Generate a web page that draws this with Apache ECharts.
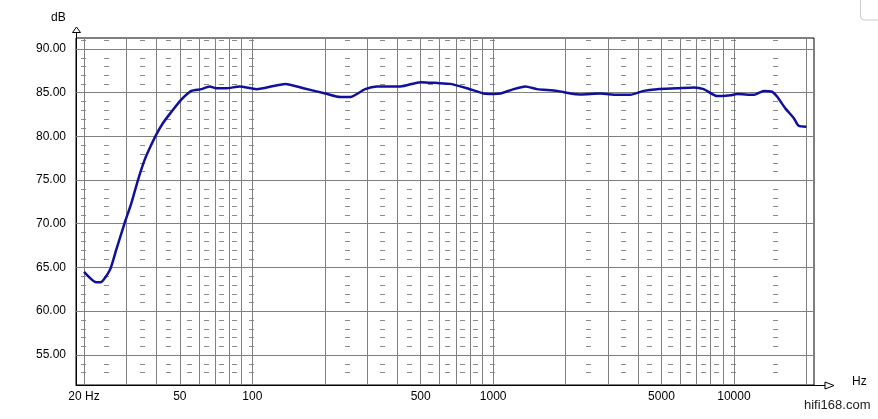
<!DOCTYPE html>
<html>
<head>
<meta charset="utf-8">
<script src="https://cdn.jsdelivr.net/npm/echarts@6/dist/echarts.min.js"></script>
<style>
html,body{margin:0;padding:0;background:#fff;}
#c{width:878px;height:419px;}
</style>
</head>
<body>
<div id="c"></div>
<script>
// Frequency response (Hz, dB)
var freqs = [20, 22.5, 23.4, 25.6, 27.2, 29.5, 31.4, 33.5, 35.7, 37.7, 39.9, 42.5, 46.1, 50.7, 55.8, 61.4, 66.5, 70.8, 78, 88.5, 104, 137, 163, 201, 232, 255, 294, 329, 412, 499, 585, 664, 779, 913, 1004, 1072, 1217, 1361, 1522, 1842, 2093, 2303, 2788, 3268, 3713, 4219, 4797, 5805, 6810, 7486, 8512, 9666, 10300, 12080, 13300, 14400, 15100, 16350, 17700, 18570, 20000];
var levels = [64.5, 63.3, 63.3, 64.7, 67.0, 70.1, 72.3, 75.0, 77.3, 78.8, 80.2, 81.5, 82.8, 84.2, 85.2, 85.4, 85.7, 85.5, 85.5, 85.7, 85.4, 86.0, 85.5, 84.9, 84.5, 84.5, 85.4, 85.7, 85.7, 86.2, 86.1, 86.0, 85.5, 84.9, 84.85, 84.9, 85.4, 85.7, 85.4, 85.2, 84.9, 84.8, 84.9, 84.75, 84.75, 85.2, 85.4, 85.5, 85.6, 85.4, 84.6, 84.7, 84.85, 84.75, 85.2, 85.1, 84.55, 83.2, 82.1, 81.2, 81.1];

// Axis tick labels
var xTickLabels = [20, 50, 100, 500, 1000, 5000, 10000];
var yTickLabels = [55, 60, 65, 70, 75, 80, 85, 90];

// Grid lines
var xGridFreqs = [20, 30, 40, 50, 60, 70, 80, 90, 100, 200, 300, 400, 500, 600, 700, 800, 900, 1000, 2000, 3000, 4000, 5000, 6000, 7000, 8000, 9000, 10000, 20000];
var yGridLevels = [55, 60, 65, 70, 75, 80, 85, 90];

// Minor dash marks
var dashFreqs = [20, 25, 35, 45, 55, 65, 75, 85, 100, 250, 350, 450, 550, 650, 750, 850, 1000, 2500, 3500, 4500, 5500, 6500, 7500, 8500, 10000, 15000];
var dashLevels = [53, 54, 56, 57, 58, 59, 61, 62, 63, 64, 66, 67, 68, 69, 71, 72, 73, 74, 76, 77, 78, 79, 81, 82, 83, 84, 86, 87, 88, 89, 91];

var curve = freqs.map(function (f, i) { return [f, levels[i]]; });
var dashes = [];
dashFreqs.forEach(function (f) { dashLevels.forEach(function (d) { dashes.push([f, d]); }); });

var gridMarks = [];
xGridFreqs.forEach(function (f) { gridMarks.push({ xAxis: f }); });
yGridLevels.forEach(function (d) { gridMarks.push({ yAxis: d }); });

var chart = echarts.init(document.getElementById('c'), null, { renderer: 'canvas' });
var font = 'Liberation Sans, Arial, sans-serif';
chart.setOption({
  animation: false,
  backgroundColor: '#fff',
  grid: { left: 76, top: 38, right: 64, bottom: 34, show: true, borderColor: '#000', borderWidth: 1, backgroundColor: 'transparent' },
  xAxis: {
    type: 'log', logBase: 10, min: 18.52, max: 21500,
    axisLine: { show: true, lineStyle: { color: '#000', width: 1 } },
    axisTick: { show: false },
    splitLine: { show: false },
    minorSplitLine: { show: false },
    axisLabel: {
      customValues: xTickLabels,
      color: '#000', fontSize: 12, fontFamily: font, margin: 6,
      formatter: function (v) { var r = Math.round(v); return r === 20 ? '20 Hz' : String(r); }
    }
  },
  yAxis: {
    type: 'value', min: 51.55, max: 91.25,
    axisLine: { show: true, lineStyle: { color: '#000', width: 1 } },
    axisTick: { show: false },
    splitLine: { show: false },
    axisLabel: {
      customValues: yTickLabels,
      color: '#000', fontSize: 12, fontFamily: font, margin: 10,
      formatter: function (v) { return Number(v).toFixed(2); }
    }
  },
  graphic: [
    { type: 'text', left: 51, top: 12, style: { text: 'dB', font: '12px ' + font, fill: '#000' } },
    { type: 'line', shape: { x1: 76.5, y1: 32, x2: 76.5, y2: 38 }, style: { stroke: '#000', lineWidth: 1 } },
    { type: 'polygon', shape: { points: [[76.5, 27], [72.5, 32.5], [80.5, 32.5]] }, style: { stroke: '#000', fill: '#fff', lineWidth: 1 } },
    { type: 'line', shape: { x1: 814, y1: 385.5, x2: 826, y2: 385.5 }, style: { stroke: '#000', lineWidth: 1 } },
    { type: 'polygon', shape: { points: [[834, 385.5], [825, 382], [825, 389]] }, style: { stroke: '#000', fill: '#fff', lineWidth: 1 } },
    { type: 'text', left: 852, top: 376, style: { text: 'Hz', font: '12px ' + font, fill: '#000' } },
    { type: 'text', left: 804, top: 399, style: { text: 'hifi168.com', font: '13px ' + font, fill: '#222' } },
    { type: 'rect', shape: { x: 860.5, y: -5, width: 30, height: 25, r: 4 }, style: { stroke: '#ccc', fill: '#fff', lineWidth: 1 } }
  ],
  series: [
    {
      type: 'custom', z: 1, silent: true,
      data: dashes,
      renderItem: function (params, api) {
        var p = api.coord([api.value(0), api.value(1)]);
        var x = Math.round(p[0]);
        var y = Math.round(p[1]) + 0.5;
        return { type: 'line', shape: { x1: x - 3, y1: y, x2: x + 2, y2: y }, style: { stroke: '#8a8a8a', lineWidth: 1 } };
      },
      markLine: {
        silent: true, symbol: 'none', animation: false,
        label: { show: false },
        lineStyle: { color: '#808080', width: 1, type: 'solid' },
        emphasis: { disabled: true },
        data: gridMarks
      }
    },
    {
      type: 'line', z: 5, silent: true,
      data: curve, showSymbol: false, symbol: 'none', smooth: 0.2,
      lineStyle: { color: '#10109C', width: 2.5 }
    }
  ]
});
</script>
</body>
</html>
